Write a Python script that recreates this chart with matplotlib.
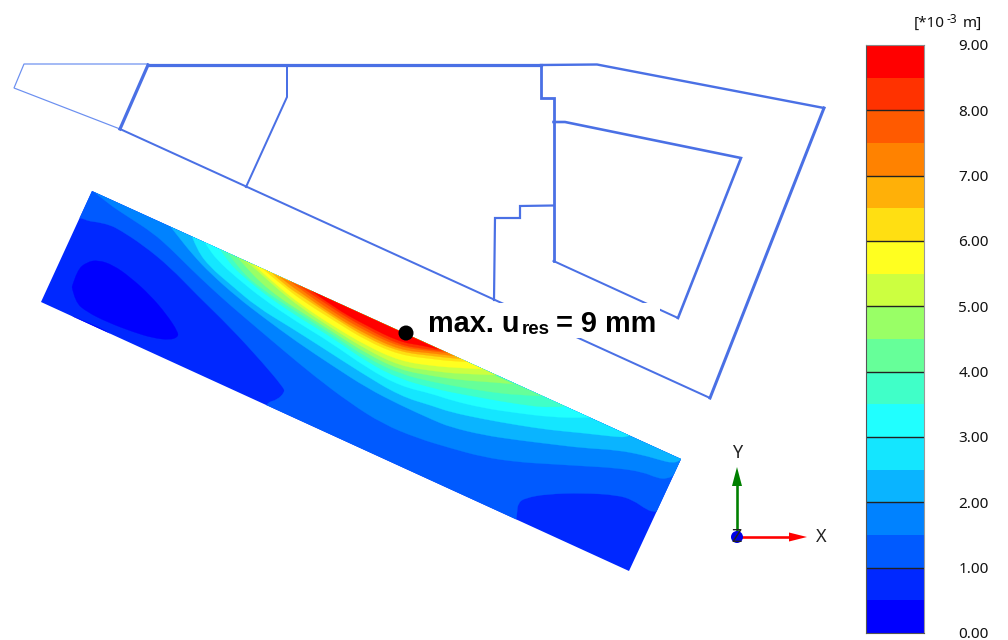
import matplotlib
matplotlib.use("Agg")
import matplotlib.pyplot as plt
from matplotlib.path import Path
from matplotlib.patches import PathPatch, Polygon, Rectangle, Circle

plt.rcParams['font.family'] = ['Noto Sans', 'DejaVu Sans']

# ---------- data (picture pixels) ----------
band_edges = [0.0, 0.5, 1.0, 1.5, 2.0, 2.5, 3.0, 3.5, 4.0, 4.5, 5.0, 5.5, 6.0, 6.5, 7.0, 7.5, 8.0, 8.5]
band_colors = ['#0000ff', '#0028ff', '#005aff', '#0082ff', '#0ab4ff', '#14e6ff', '#20ffff', '#40ffc8', '#66ff99',
               '#99ff66', '#ccff40', '#ffff20', '#ffdf12', '#ffb008', '#ff8200', '#ff5a00', '#ff3200', '#ff0000']
tick_values = [0, 1, 2, 3, 4, 5, 6, 7, 8, 9]
tick_labels = ['0.00', '1.00', '2.00', '3.00', '4.00', '5.00', '6.00', '7.00', '8.00', '9.00']

slab = [(92, 191), (681, 459), (629, 571), (41, 302)]

blob_05 = [(72, 287), (77, 270), (87, 262), (98, 260), (113, 265), (130, 277), (150, 295), (167, 315), (178, 332),
           (178, 337), (170, 340), (153, 338), (133, 332), (107, 322), (87, 312), (75, 302), (72, 287)]
sliver_05 = [(73, 316.5), (93, 324.5), (113, 334.5), (112, 345), (68, 325)]

level_10 = [(60, 214), (82, 218), (88, 221), (97, 222), (110, 225), (120, 230), (143, 245), (170, 267), (197, 295),
            (230, 327), (263, 363), (283, 387), (285, 392), (277, 400), (268, 402), (262, 412), (510, 530), (516, 522),
            (517, 513), (518, 503), (525, 498), (547, 494), (583, 493), (617, 495), (633, 500), (647, 510), (655, 512),
            (700, 515), (705, 440), (100, 170), (60, 190)]
level_15 = [(92, 190), (107, 203), (130, 218), (153, 233), (170, 248), (190, 268), (210, 287), (230, 305), (257, 328),
            (283, 350), (313, 375), (350, 403), (383, 424), (417, 438), (450, 448), (483, 457), (517, 462), (550, 464),
            (583, 466), (617, 468), (643, 472), (657, 478), (667, 479), (676, 474), (700, 450)]
level_20 = [(167, 222), (177, 235), (193, 255), (210, 273), (237, 297), (263, 317), (297, 342), (333, 366), (367, 388),
            (400, 405), (433, 420), (450, 427), (483, 435), (517, 440), (550, 444), (583, 448), (617, 450), (643, 455),
            (660, 460), (672, 463), (680, 461), (695, 450)]
level_25 = [(192, 236), (197, 250), (210, 267), (230, 284), (257, 307), (290, 327), (323, 348), (360, 372), (400, 396),
            (433, 406), (450, 412), (483, 419), (517, 425), (550, 430), (583, 433), (617, 437), (627, 437), (634, 434)]
level_30 = [(204, 241), (207, 246), (217, 260), (237, 278), (263, 299), (297, 322), (330, 342), (367, 368), (400, 386),
            (433, 394), (450, 400), (483, 408), (517, 413), (550, 417), (583, 418), (595, 417)]
level_35 = [(220, 249), (228, 262), (245, 278), (270, 298), (300, 318), (333, 338), (367, 362), (400, 379), (433, 388),
            (450, 392), (483, 398), (517, 404), (550, 408), (568, 406)]
level_40 = [(228, 253), (240, 270), (260, 288), (300, 314), (333, 335), (367, 358), (400, 374), (433, 382), (460, 387),
            (490, 392), (517, 395), (542, 396)]
level_45 = [(237, 257), (247, 268), (260, 282), (280, 298), (300, 311), (333, 332), (367, 354), (400, 370), (433, 376),
            (460, 380), (490, 382), (513, 384)]
level_50 = [(245, 261), (252, 266), (260, 273), (280, 291), (300, 307), (333, 329), (367, 350), (400, 366), (433, 371),
            (460, 374), (497, 375)]
level_55 = [(253, 264), (262, 272), (280, 288), (300, 304), (333, 326), (367, 346), (400, 361), (433, 366), (460, 368),
            (483, 369)]
level_60 = [(262, 268), (270, 275), (285, 287), (300, 299), (333, 320), (367, 341), (400, 355), (433, 359), (450, 361),
            (470, 362)]
level_65 = [(272, 273), (285, 285), (300, 295), (333, 317), (367, 338), (400, 352), (433, 356), (450, 358), (463, 359)]
level_70 = [(280, 277), (290, 285), (300, 292), (333, 315), (367, 335), (400, 350), (430, 353), (455, 356)]
level_75 = [(290, 281), (300, 289), (333, 312), (367, 332), (400, 347), (430, 351), (449, 353)]
level_80 = [(300, 286), (333, 309), (367, 329), (400, 345), (425, 349), (443, 351)]
level_85 = [(312, 291), (333, 307), (367, 326), (400, 342), (420, 345), (438, 349)]
levels_up = [level_10, level_15, level_20, level_25, level_30, level_35, level_40, level_45, level_50, level_55,
             level_60, level_65, level_70, level_75, level_80, level_85]

thin_outline = [(148, 64), (24, 64), (14, 88), (120, 129)]
thick_left = [(120, 129), (148, 65)]
top_heavy = [(148, 65), (541, 65)]
top_right = [(541, 65), (597, 64.5), (824, 108)]
right_edge = [(824, 108), (710, 398)]
bottom_line = [(710, 398), (120, 129)]
wall_mid = [(246, 187), (287, 97), (287, 65)]
stair_main = [(541, 65), (541, 98), (553.5, 98), (553.5, 261)]
inner_low = [(553.5, 261), (678, 318)]
inner_rest = [(678, 318), (741, 158), (565, 122), (553.5, 122)]
stair_low = [(553.5, 205.5), (520, 206), (520, 218), (495, 218), (494, 300)]

# ---------- figure ----------
fig = plt.figure(figsize=(10.08, 6.40), dpi=100, facecolor='white')
ax = fig.add_axes([0, 0, 1, 1])
ax.set_xlim(0, 1008)
ax.set_ylim(640, 0)
ax.axis('off')


def smooth_patch(points, color):
    verts = [points[0]]
    codes = [Path.MOVETO]
    for i in range(1, len(points) - 1):
        p = points[i]
        q = points[i + 1]
        end = q if i == len(points) - 2 else ((p[0] + q[0]) / 2, (p[1] + q[1]) / 2)
        verts += [p, end]
        codes += [Path.CURVE3, Path.CURVE3]
    verts.append(points[0])
    codes.append(Path.CLOSEPOLY)
    return PathPatch(Path(verts, codes), facecolor=color, edgecolor=color, lw=0.2)


slab_patch = Polygon(slab, closed=True, facecolor=band_colors[1], edgecolor='none', zorder=1)
ax.add_patch(slab_patch)
for pts, col in [(blob_05, band_colors[0]), (sliver_05, band_colors[0])]:
    patch = smooth_patch(pts, col)
    patch.set_zorder(2)
    ax.add_patch(patch)
    patch.set_clip_path(slab_patch)
for k, pts in enumerate(levels_up):
    patch = smooth_patch(pts, band_colors[k + 2])
    patch.set_zorder(3 + k)
    ax.add_patch(patch)
    patch.set_clip_path(slab_patch)

BLUE = '#4a70e5'
PX = 0.72
for pts, w, col in [(thin_outline, 1.2, '#6b8ff0'), (thick_left, 3.2, BLUE), (top_heavy, 3.2, BLUE),
                    (top_right, 2.4, BLUE), (right_edge, 3.0, BLUE), (bottom_line, 2.0, BLUE), (wall_mid, 2.0, BLUE),
                    (stair_main, 2.8, BLUE), (inner_low, 2.0, BLUE), (inner_rest, 2.6, BLUE), (stair_low, 2.2, BLUE)]:
    ax.plot([p[0] for p in pts], [p[1] for p in pts], color=col, lw=w * PX, solid_joinstyle='miter', zorder=30)

# label with white backing
ax.add_patch(Rectangle((416, 303), 244, 35, facecolor='white', edgecolor='none', zorder=31))
bold = dict(family='Liberation Sans', weight='bold', color='black', ha='left', va='baseline', zorder=32)
ax.text(428, 332, 'max. u', fontsize=20.8, **bold)
ax.text(522, 334.5, 'res', fontsize=13.5, **bold)
ax.text(556, 332, '= 9 mm', fontsize=20.8, **bold)
ax.add_patch(Circle((406, 333), 7.5, facecolor='black', edgecolor='none', zorder=33))

# axis triad
ax.plot([737, 737], [537, 485], color='#008000', lw=2.6 * PX, zorder=34)
ax.add_patch(Polygon([(737, 467), (732, 486), (742, 486)], closed=True, facecolor='#008000', edgecolor='none', zorder=34))
ax.plot([737, 790], [537, 537], color='#ff0000', lw=2.6 * PX, zorder=34)
ax.add_patch(Polygon([(807, 537), (789, 532.5), (789, 541.5)], closed=True, facecolor='#ff0000', edgecolor='none', zorder=34))
ax.add_patch(Circle((737, 537), 6, facecolor='#0000e6', edgecolor='none', zorder=35))
ax.text(737, 537.5, 'Z', fontsize=13, color='#222222', ha='center', va='center', zorder=36)
ax.text(737, 453.5, 'Y', fontsize=13, color='#222222', ha='center', va='center', zorder=36)
ax.text(821, 537.5, 'X', fontsize=13, color='#222222', ha='center', va='center', zorder=36)

# colour scale
cb = fig.add_axes([865.5 / 1008, (640 - 633) / 640, 58 / 1008, 588 / 640])
cb.bar([0.5] * len(band_edges), [0.5] * len(band_edges), width=1.0, bottom=band_edges, color=band_colors, linewidth=0)
cb.hlines(tick_values[1:-1], 0, 1, color='#222222', lw=1.0)
cb.set_xlim(0, 1)
cb.set_ylim(0, 9)
cb.set_xticks([])
cb.yaxis.tick_right()
cb.set_yticks(tick_values)
cb.set_yticklabels(tick_labels, fontsize=11, color='#111111', va='center_baseline')
cb.tick_params(axis='y', length=0, pad=25)
for side, col in [('left', '#555555'), ('right', '#999999'), ('top', '#888888'), ('bottom', '#555555')]:
    cb.spines[side].set_color(col)
    cb.spines[side].set_linewidth(0.8)

# unit label
ax.text(914, 27, '[*10', fontsize=11, color='#111111', ha='left', va='baseline')
ax.text(946.5, 22.7, '-3', fontsize=8.5, color='#111111', ha='left', va='baseline')
ax.text(963, 27, 'm]', fontsize=11, color='#111111', ha='left', va='baseline')

fig.savefig('out.png', dpi=100)
